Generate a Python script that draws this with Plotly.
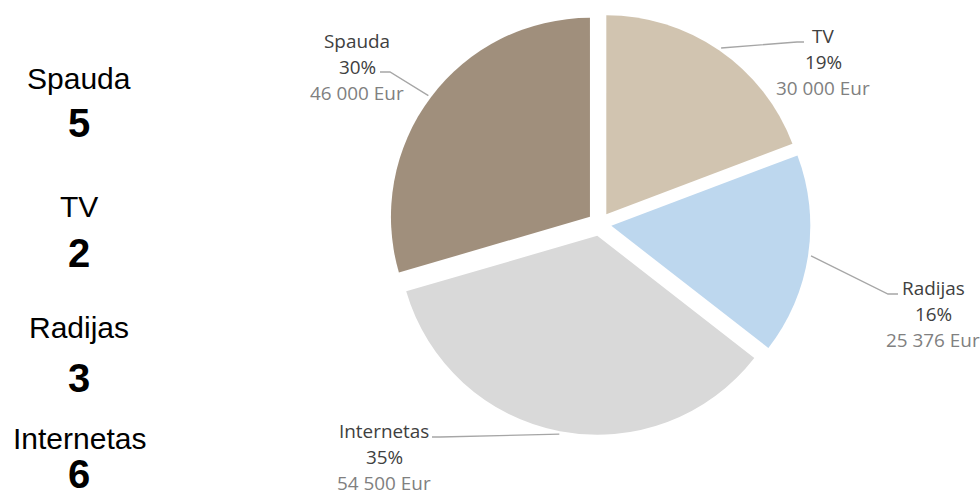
import math
import plotly.graph_objects as go

# Media budget breakdown
categories = ["Spauda", "TV", "Radijas", "Internetas"]
budget_eur = [46000, 30000, 25376, 54500]
channel_counts = [5, 2, 3, 6]

# Slices go clockwise from 12 o'clock in this order
pie_order = ["TV", "Radijas", "Internetas", "Spauda"]

colors = {
    "Spauda": "#a08f7c",
    "TV": "#d1c4b0",
    "Radijas": "#bdd7ee",
    "Internetas": "#d9d9d9",
}

W, H = 980, 500
CX, CY = 599.5, 224.0      # pie centre (px)
R_PIE = 199.0              # pie radius (px)
PULL = 0.06                # explode fraction

NAME_COLOR = "#404040"
VALUE_COLOR = "#808080"
LEADER_COLOR = "#a6a6a6"
LABEL_FONT = "Open Sans"
LABEL_SIZE = 18.9
LINE_GAP = 26

# label block: (centre x, first-line baseline y) in px
label_anchor = {
    "Spauda": (357, 48),
    "TV": (823, 43),
    "Radijas": (933, 295),
    "Internetas": (384, 438),
}
# leader line: elbow point and end point near the label (px)
leader_tail = {
    "Spauda": [(390, 72), (380, 72)],
    "TV": [(797, 42), (804, 42)],
    "Radijas": [(888, 294), (898, 294)],
    "Internetas": [(440, 437), (432, 437)],
}

# left column: baselines of name and count (px)
left_x = 79
left_name_base = [89, 217, 338, 449]
left_count_base = [137, 267, 392, 488]


def px(x):
    return x / W


def py(y):
    return 1 - y / H


val = dict(zip(categories, budget_eur))
total = sum(budget_eur)

half = R_PIE * (1 + PULL)
fig = go.Figure(
    go.Pie(
        labels=pie_order,
        values=[val[c] for c in pie_order],
        marker=dict(colors=[colors[c] for c in pie_order], line=dict(width=0)),
        pull=[PULL] * len(pie_order),
        sort=False,
        direction="clockwise",
        rotation=0,
        textinfo="none",
        hoverinfo="label+value+percent",
        showlegend=False,
        domain=dict(
            x=[px(CX - half), px(CX + half)],
            y=[py(CY + half), py(CY - half)],
        ),
    )
)

annotations = []
shapes = []

# slice labels with leader lines from each slice's outer edge at its bisector
cum = 0.0
for c in pie_order:
    frac = val[c] / total
    mid = (cum + frac / 2) * 2 * math.pi
    cum += frac
    rr = R_PIE * (1 + PULL) + 3
    sx = CX + rr * math.sin(mid)
    sy = CY - rr * math.cos(mid)
    pts = [(sx, sy)] + leader_tail[c]
    path = "M " + " L ".join(f"{px(x):.5f},{py(y):.5f}" for x, y in pts)
    shapes.append(dict(type="path", path=path, xref="paper", yref="paper",
                       line=dict(color=LEADER_COLOR, width=1.3)))

    lx, lb = label_anchor[c]
    pct = f"{round(frac * 100)}%"
    money = f"{val[c]:,}".replace(",", " ") + " Eur"
    lines = [(c, NAME_COLOR), (pct, NAME_COLOR), (money, VALUE_COLOR)]
    for i, (txt, col) in enumerate(lines):
        yc = lb + i * LINE_GAP - 0.388 * LABEL_SIZE
        annotations.append(dict(
            x=px(lx), y=py(yc), xref="paper", yref="paper",
            text=txt, showarrow=False, xanchor="center", yanchor="middle",
            font=dict(family=LABEL_FONT, size=LABEL_SIZE, color=col),
        ))

# left column: category name and count
for c, nb, cb in zip(categories, left_name_base, left_count_base):
    n = channel_counts[categories.index(c)]
    annotations.append(dict(
        x=px(left_x), y=py(nb - 0.35 * 30), xref="paper", yref="paper",
        text=c, showarrow=False, xanchor="center", yanchor="middle",
        font=dict(family="Liberation Sans, Arial", size=30, color="#000000"),
    ))
    annotations.append(dict(
        x=px(left_x), y=py(cb - 0.35 * 40), xref="paper", yref="paper",
        text=f"<b>{n}</b>", showarrow=False, xanchor="center", yanchor="middle",
        font=dict(family="Liberation Sans, Arial", size=40, color="#000000"),
    ))

fig.update_layout(
    width=W, height=H,
    margin=dict(l=0, r=0, t=0, b=0),
    paper_bgcolor="white",
    plot_bgcolor="white",
    annotations=annotations,
    shapes=shapes,
)

fig.write_html("out.html")
